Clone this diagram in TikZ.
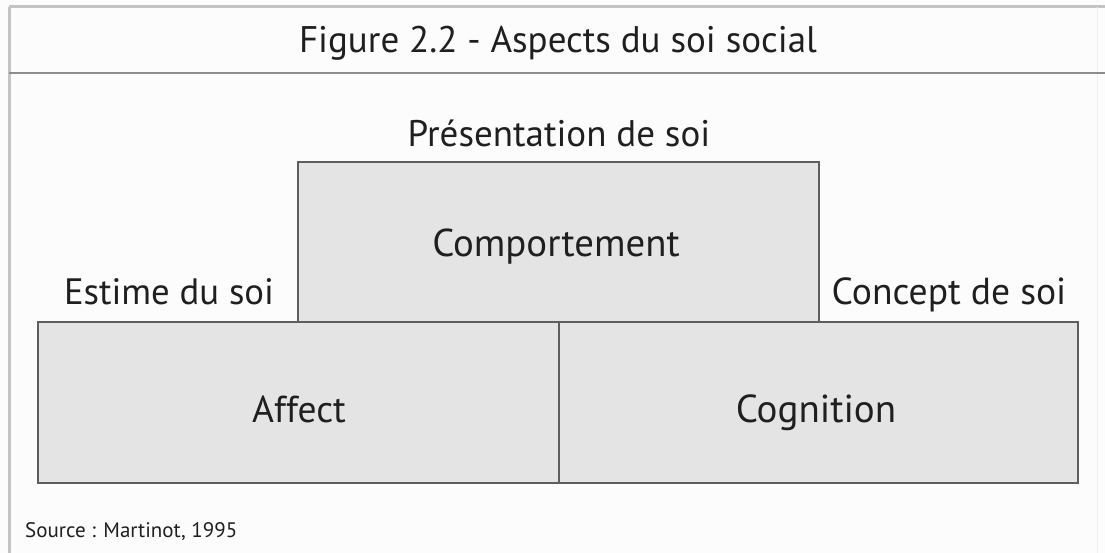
\documentclass[tikz,border=0pt]{standalone}
\usepackage{fontspec}
\setmainfont{PT Sans}
\begin{document}
\begin{tikzpicture}[x=1pt,y=-1pt,
  block/.style={draw=boxline,fill=boxfill,line width=1.8pt,inner sep=0pt},
  txt/.style={anchor=base,inner sep=0pt,text=black!88}]
\definecolor{boxfill}{HTML}{E4E4E4}
\definecolor{boxline}{HTML}{5E5E5E}
\definecolor{framegray}{HTML}{C4C4C4}
\definecolor{rulegray}{HTML}{8C8C8C}
% page and frame
\fill[white!99!black] (0,0) rectangle (1105,553);
\useasboundingbox (0,0) rectangle (1105,553);
\draw[framegray,line width=3pt] (9,7) -- (1105,7);
\draw[framegray,line width=3pt] (9,7) -- (9,553);
\draw[black!6,line width=1pt] (1097,7) -- (1097,553);
\draw[rulegray,line width=2.5pt] (9,73) -- (1105,73);
% title
\node[txt,font=\fontsize{37}{42}\selectfont] (title) at (558,53) {Figure 2.2 - Aspects du soi social};
% blocks
\draw[block] (298,162) rectangle (819,322);
\draw[block] (38,322) rectangle (559,483);
\draw[block] (559,322) rectangle (1078,483);
% labels
\node[txt,font=\fontsize{37}{42}\selectfont] (pres) at (559,147) {Présentation de soi};
\node[txt,font=\fontsize{38.8}{44}\selectfont] (comp) at (556,257) {Comportement};
\node[txt,font=\fontsize{36.7}{42}\selectfont] (estime) at (169,305) {Estime du soi};
\node[txt,font=\fontsize{37.6}{42}\selectfont] (concept) at (949,305) {Concept de soi};
\node[txt,font=\fontsize{37.5}{44}\selectfont] (affect) at (299,422) {Affect};
\node[txt,font=\fontsize{39}{44}\selectfont] (cog) at (816,422) {Cognition};
\node[txt,anchor=base west,font=\fontsize{21}{25}\selectfont] (src) at (25,537) {Source : Martinot, 1995};
\end{tikzpicture}
\end{document}
